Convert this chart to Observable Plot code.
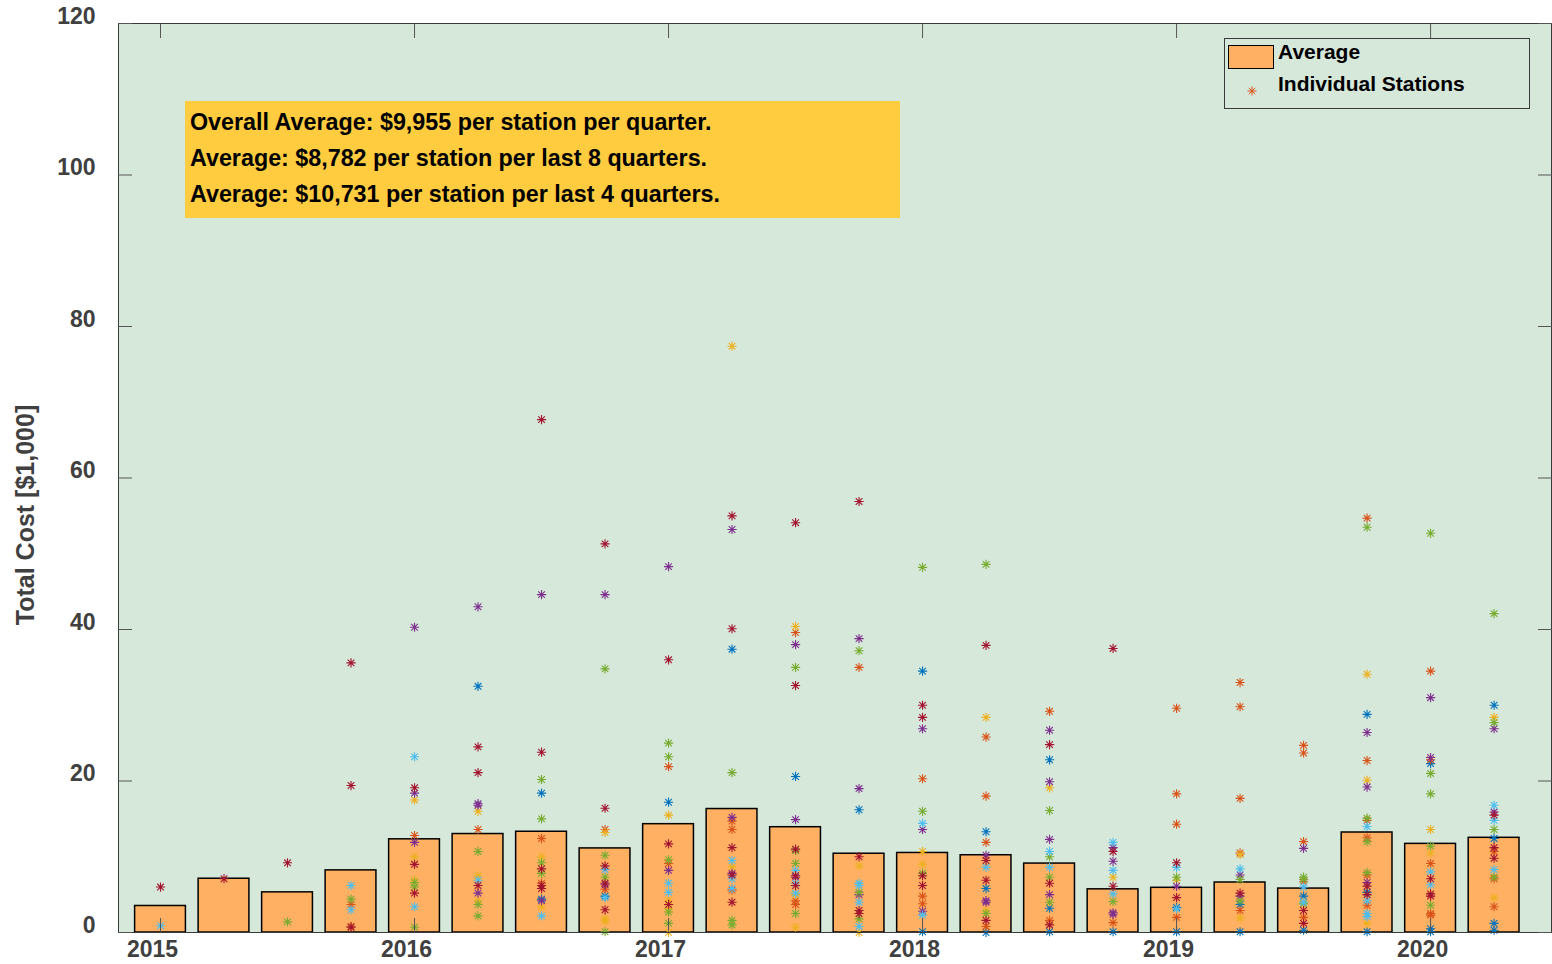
<!DOCTYPE html>
<html>
<head>
<meta charset="utf-8">
<script src="https://cdn.jsdelivr.net/npm/d3@7"></script>
<script src="https://cdn.jsdelivr.net/npm/@observablehq/plot@0.6"></script>
<style>
  html, body { margin: 0; padding: 0; background: #ffffff; }
  #wrap { position: relative; width: 1552px; height: 964px; overflow: hidden; font-family: "Liberation Sans", Arial, Helvetica, sans-serif; }
  #chart { position: absolute; left: 0; top: 0; }
  #note { position: absolute; left: 185px; top: 101px; width: 715px; height: 117px; background: #ffcc40;
          box-sizing: border-box; padding: 3px 0 0 5px; font-size: 23.3px; font-weight: bold; color: #000; line-height: 36px; white-space: nowrap; }
  #legend { position: absolute; left: 1224px; top: 38px; width: 306px; height: 71px; box-sizing: border-box;
            border: 1px solid #3a3a3a; background: #d6e8da; font-size: 21px; font-weight: bold; color: #000; }
  #ytitle { position: absolute; left: 25px; top: 515px; transform: translate(-50%, -50%) rotate(-90deg);
            font-size: 25px; font-weight: bold; color: #404040; white-space: nowrap; }
</style>
</head>
<body>
<div id="wrap">
  <div id="chart"></div>
  <div id="ytitle">Total Cost [$1,000]</div>
  <div id="note">
    <div>Overall Average: $9,955 per station per quarter.</div>
    <div>Average: $8,782 per station per last 8 quarters.</div>
    <div>Average: $10,731 per station per last 4 quarters.</div>
  </div>
  <div id="legend">
    <div style="position:absolute;left:3px;top:6px;width:44px;height:22px;background:#ffb063;border:1px solid #000;"></div>
    <div style="position:absolute;left:53px;top:0px;line-height:26px;">Average</div>
    <svg style="position:absolute;left:20px;top:45px;" width="14" height="14" viewBox="-7 -7 14 14">
      <path d="M-4.5,0H4.5M0,-4.5V4.5M-3.2,-3.2L3.2,3.2M-3.2,3.2L3.2,-3.2" stroke="#D95319" stroke-width="1" fill="none"/>
    </svg>
    <div style="position:absolute;left:53px;top:32px;line-height:26px;">Individual Stations</div>
  </div>
</div>
<script>
// ---- Data ----
const quarters = ["2015Q1","2015Q2","2015Q3","2015Q4","2016Q1","2016Q2","2016Q3","2016Q4",
  "2017Q1","2017Q2","2017Q3","2017Q4","2018Q1","2018Q2","2018Q3","2018Q4",
  "2019Q1","2019Q2","2019Q3","2019Q4","2020Q1","2020Q2"];
const averageCost = [3.5, 7.1, 5.3, 8.2, 12.3, 13.0, 13.3, 11.1, 14.3, 16.3, 13.9, 10.4,
  10.5, 10.2, 9.1, 5.7, 5.9, 6.6, 5.8, 13.2, 11.7, 12.5];
const yTicks = [0, 20, 40, 60, 80, 100, 120];
const xTicks = [2015, 2016, 2017, 2018, 2019, 2020];

// Individual station costs [quarter, $1,000], grouped by marker colour series
const stationsS1 = [["2016Q2",32.5],["2016Q3",18.4],["2016Q3",4.4],["2016Q4",4.8],["2017Q1",17.2],["2017Q2",37.4],
  ["2017Q3",20.6],["2017Q4",16.2],["2018Q1",34.5],["2018Q1",0.1],["2018Q2",13.3],["2018Q2",5.8],["2018Q2",0.0],
  ["2018Q3",22.8],["2018Q3",3.2],["2018Q3",0.1],["2018Q4",0.1],["2019Q1",3.3],["2019Q1",0.1],["2019Q2",3.7],["2019Q2",0.1],
  ["2019Q3",4.8],["2019Q3",0.3],["2019Q4",28.8],["2019Q4",5.3],["2019Q4",0.1],["2020Q1",22.3],["2020Q1",0.5],["2020Q1",0.1],
  ["2020Q2",30.0],["2020Q2",12.4],["2020Q2",1.2],["2020Q2",0.3]];
const stationsS2 = [["2015Q4",3.7],["2015Q4",0.8],["2016Q1",12.8],["2016Q2",13.6],["2016Q3",12.4],["2016Q3",6.5],
  ["2016Q4",13.6],["2016Q4",5.7],["2017Q1",21.9],["2017Q1",9.1],["2017Q2",14.7],["2017Q2",13.6],["2017Q2",5.6],
  ["2017Q3",39.6],["2017Q3",4.2],["2017Q3",3.7],["2017Q4",35.0],["2018Q1",20.3],["2018Q1",4.8],["2018Q1",3.8],
  ["2018Q2",25.8],["2018Q2",18.0],["2018Q2",11.9],["2018Q2",0.8],["2018Q3",29.2],["2018Q3",1.6],["2018Q4",1.3],
  ["2019Q1",29.6],["2019Q1",18.3],["2019Q1",14.3],["2019Q1",2.0],["2019Q2",33.0],["2019Q2",29.8],["2019Q2",17.7],
  ["2019Q2",10.5],["2019Q2",2.9],["2019Q3",24.7],["2019Q3",23.7],["2019Q3",12.0],["2019Q3",6.7],["2019Q3",2.0],
  ["2019Q4",54.7],["2019Q4",22.7],["2019Q4",14.8],["2019Q4",12.5],["2019Q4",7.6],["2019Q4",3.6],
  ["2020Q1",34.5],["2020Q1",22.8],["2020Q1",9.1],["2020Q1",2.5],["2020Q1",2.3],["2020Q2",10.7],["2020Q2",7.1],["2020Q2",3.4]];
const stationsS3 = [["2016Q1",17.5],["2016Q1",10.0],["2016Q1",6.9],["2016Q2",16.0],["2016Q2",7.5],["2016Q2",4.2],
  ["2016Q3",10.0],["2016Q3",3.4],["2016Q4",13.2],["2016Q4",1.8],["2016Q4",1.5],["2017Q1",15.5],["2017Q1",4.2],
  ["2017Q1",3.1],["2017Q1",0.0],["2017Q2",77.4],["2017Q2",8.7],["2017Q3",40.4],["2017Q3",5.0],["2017Q3",0.7],
  ["2017Q4",8.8],["2017Q4",0.0],["2018Q1",10.7],["2018Q1",9.0],["2018Q2",28.4],["2018Q2",2.9],["2018Q3",19.1],
  ["2018Q4",7.3],["2019Q1",6.9],["2019Q2",10.3],["2019Q2",1.9],["2019Q4",34.1],["2019Q4",20.1],["2019Q4",1.2],
  ["2020Q1",13.6],["2020Q1",10.5],["2020Q2",28.4],["2020Q2",4.6]];
const stationsS4 = [["2016Q1",40.3],["2016Q1",18.4],["2016Q1",11.9],["2016Q2",43.0],["2016Q2",17.0],["2016Q2",16.8],
  ["2016Q2",5.2],["2016Q3",44.6],["2016Q3",4.2],["2016Q4",44.6],["2016Q4",6.3],["2017Q1",48.3],["2017Q1",8.2],
  ["2017Q2",53.2],["2017Q2",15.2],["2017Q2",7.8],["2017Q3",38.0],["2017Q3",14.9],["2017Q3",7.3],["2017Q4",38.8],
  ["2017Q4",19.0],["2017Q4",5.0],["2018Q1",26.9],["2018Q1",13.6],["2018Q1",2.8],["2018Q2",10.2],["2018Q2",4.2],
  ["2018Q2",4.0],["2018Q3",26.7],["2018Q3",19.9],["2018Q3",12.3],["2018Q3",5.0],["2018Q4",11.2],["2018Q4",9.4],
  ["2018Q4",2.6],["2018Q4",2.4],["2019Q1",6.1],["2019Q2",7.6],["2019Q2",4.8],["2019Q3",11.1],["2019Q4",26.4],
  ["2019Q4",19.2],["2019Q4",6.6],["2020Q1",31.0],["2020Q1",23.1],["2020Q2",26.9],["2020Q2",15.9]];
const stationsS5 = [["2015Q3",1.4],["2015Q4",4.4],["2016Q1",6.6],["2016Q1",6.0],["2016Q1",0.7],["2016Q2",10.7],
  ["2016Q2",3.7],["2016Q2",2.2],["2016Q3",20.2],["2016Q3",15.0],["2016Q3",9.2],["2016Q3",7.8],["2016Q4",34.8],
  ["2016Q4",10.2],["2016Q4",7.3],["2016Q4",0.1],["2017Q1",25.0],["2017Q1",23.2],["2017Q1",9.6],["2017Q1",2.7],
  ["2017Q1",1.2],["2017Q2",21.1],["2017Q2",1.6],["2017Q2",1.0],["2017Q3",35.0],["2017Q3",10.8],["2017Q3",9.1],
  ["2017Q3",2.5],["2017Q4",37.2],["2017Q4",5.3],["2017Q4",1.8],["2018Q1",48.2],["2018Q1",16.0],["2018Q1",7.8],
  ["2018Q2",48.6],["2018Q2",2.5],["2018Q3",16.1],["2018Q3",10.0],["2018Q3",7.3],["2018Q3",4.0],["2018Q4",4.1],
  ["2019Q1",7.3],["2019Q2",7.0],["2019Q2",4.2],["2019Q3",7.3],["2019Q3",7.0],["2019Q3",3.8],["2019Q4",53.5],
  ["2019Q4",15.1],["2019Q4",12.0],["2019Q4",7.9],["2020Q1",52.7],["2020Q1",21.0],["2020Q1",18.3],["2020Q1",11.4],
  ["2020Q1",3.6],["2020Q2",42.1],["2020Q2",27.7],["2020Q2",13.6],["2020Q2",7.3]];
const stationsS6 = [["2015Q1",0.9],["2015Q4",6.2],["2015Q4",3.0],["2016Q1",23.2],["2016Q1",3.4],["2016Q2",6.9],
  ["2016Q3",2.2],["2016Q4",8.3],["2016Q4",4.6],["2017Q1",6.5],["2017Q1",5.3],["2017Q2",9.5],["2017Q2",7.1],
  ["2017Q2",5.8],["2017Q3",8.2],["2017Q3",6.5],["2017Q3",5.2],["2017Q4",6.5],["2017Q4",6.2],["2017Q4",4.0],
  ["2017Q4",0.8],["2018Q1",14.4],["2018Q1",2.3],["2018Q2",8.6],["2018Q3",10.7],["2018Q3",8.6],["2018Q4",11.9],
  ["2018Q4",8.2],["2018Q4",5.1],["2019Q1",8.6],["2019Q1",3.1],["2019Q2",8.4],["2019Q3",6.0],["2019Q3",4.0],
  ["2019Q4",14.0],["2019Q4",4.2],["2019Q4",2.5],["2019Q4",2.1],["2020Q1",8.0],["2020Q1",6.3],["2020Q2",16.8],
  ["2020Q2",14.8],["2020Q2",8.3]];
const stationsS7 = [["2015Q1",6.0],["2015Q2",7.1],["2015Q3",9.2],["2015Q4",35.6],["2015Q4",19.4],["2015Q4",0.7],
  ["2016Q1",19.1],["2016Q1",9.0],["2016Q1",5.2],["2016Q2",24.5],["2016Q2",21.1],["2016Q2",6.2],["2016Q3",67.7],
  ["2016Q3",23.8],["2016Q3",8.4],["2016Q3",6.2],["2016Q3",5.8],["2016Q4",51.3],["2016Q4",16.4],["2016Q4",8.8],
  ["2016Q4",6.5],["2016Q4",3.0],["2017Q1",36.0],["2017Q1",11.7],["2017Q1",3.7],["2017Q2",55.0],["2017Q2",40.1],
  ["2017Q2",11.2],["2017Q2",7.6],["2017Q2",4.0],["2017Q3",54.1],["2017Q3",32.6],["2017Q3",11.0],["2017Q3",7.5],
  ["2017Q3",6.2],["2017Q4",56.9],["2017Q4",10.0],["2017Q4",2.9],["2017Q4",2.5],["2018Q1",30.0],["2018Q1",28.4],
  ["2018Q1",7.5],["2018Q1",6.2],["2018Q2",37.9],["2018Q2",9.5],["2018Q2",6.9],["2018Q2",1.6],["2018Q3",24.8],
  ["2018Q3",6.5],["2018Q3",1.0],["2018Q4",37.5],["2018Q4",10.7],["2018Q4",6.1],["2019Q1",9.2],["2019Q1",4.6],
  ["2019Q2",5.2],["2019Q3",2.9],["2019Q3",1.2],["2019Q4",6.1],["2019Q4",5.0],["2020Q1",7.1],["2020Q1",5.1],
  ["2020Q1",4.8],["2020Q2",15.5],["2020Q2",11.2],["2020Q2",9.8]];

const seriesNames = ["s1","s2","s3","s4","s5","s6","s7"];
const seriesColors = ["#0072BD","#D95319","#EDB120","#7E2F8E","#77AC30","#4DBEEE","#A2142F"];

// ---- Build tables ----
const toYear = q => +q.slice(0, 4) + (+q.slice(5) - 1) / 4;
const bars = quarters.map((q, i) => ({t: toYear(q), avg: averageCost[i]}));
const stationGroups = [stationsS1, stationsS2, stationsS3, stationsS4, stationsS5, stationsS6, stationsS7];
const points = stationGroups.flatMap((arr, k) => arr.map(([q, v]) => ({t: toYear(q), v, s: seriesNames[k]})));

const barHalf = 0.1; // 80% of a quarter
const asterisk = {
  draw(ctx, size) {
    const r = Math.sqrt(size / Math.PI);
    const d = r * 0.72;
    ctx.moveTo(-r, 0); ctx.lineTo(r, 0);
    ctx.moveTo(0, -r); ctx.lineTo(0, r);
    ctx.moveTo(-d, -d); ctx.lineTo(d, d);
    ctx.moveTo(-d, d); ctx.lineTo(d, -d);
  }
};

const axisColor = "#404040";
const chart = Plot.plot({
  width: 1552,
  height: 964,
  marginLeft: 118,
  marginRight: 1,
  marginTop: 23,
  marginBottom: 32,
  style: {fontFamily: "Liberation Sans, Arial, Helvetica, sans-serif", fontSize: "23px", fontWeight: "bold", color: axisColor, background: "transparent"},
  x: {domain: [2014.8346, 2020.476]},
  y: {domain: [0, 120]},
  color: {domain: seriesNames, range: seriesColors},
  marks: [
    Plot.frame({fill: "#d6e8da", stroke: null}),
    Plot.rectY(bars, {x1: d => d.t - barHalf, x2: d => d.t + barHalf, y: "avg", fill: "#ffb063", stroke: "#000", strokeWidth: 1.5}),
    Plot.dot(points, {x: "t", y: "v", stroke: "s", symbol: asterisk, r: 4.6, fill: "none", strokeWidth: 1.1}),
    Plot.frame({stroke: "#3a3a3a", strokeWidth: 1}),
    Plot.axisY(yTicks, {anchor: "left", tickSize: -14, text: null, label: null, stroke: "#555"}),
    Plot.axisY(yTicks, {anchor: "right", tickSize: -14, text: null, label: null, stroke: "#555"}),
    Plot.axisX(xTicks, {anchor: "top", tickSize: -14, text: null, label: null, stroke: "#555"}),
    Plot.axisX(xTicks, {anchor: "bottom", tickSize: -14, text: null, label: null, stroke: "#555"}),
    Plot.axisY(yTicks, {anchor: "left", tickSize: 0, tickPadding: 23, dy: -7, label: null, tickFormat: d => String(d)}),
    Plot.axisX(xTicks, {anchor: "bottom", tickSize: 0, tickPadding: 8, dx: -8, label: null, tickFormat: d => String(d)})
  ]
});
document.getElementById("chart").appendChild(chart);
</script>
</body>
</html>
